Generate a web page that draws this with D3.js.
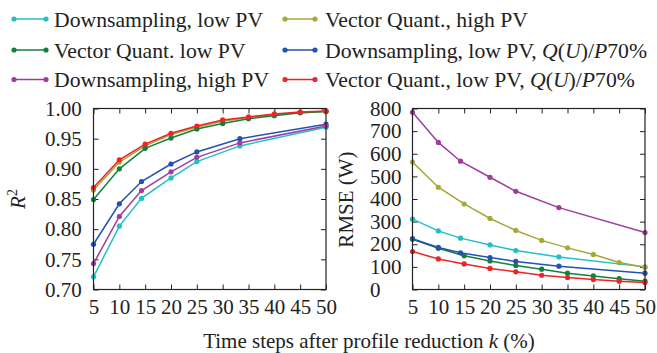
<!DOCTYPE html>
<html>
<head>
<meta charset="utf-8">
<script src="https://cdn.jsdelivr.net/npm/d3@7"></script>
<style>
  body { margin: 0; background: #fff; }
  text { font-family: "Liberation Serif", "Times New Roman", serif; fill: #222; }
</style>
</head>
<body>
<svg id="chart" width="657" height="353"></svg>
<script>
// x positions: downsampling uses 1/n steps, vector quant. every 5 %
const kDown = [5, 10, 14.29, 20, 25, 33.33, 50];
const kVQ = [5, 10, 15, 20, 25, 30, 35, 40, 45, 50];
const xTicks = [5, 10, 15, 20, 25, 30, 35, 40, 45, 50];
const r2Ticks = [0.70, 0.75, 0.80, 0.85, 0.90, 0.95, 1.00];
const rmseTicks = [0, 100, 200, 300, 400, 500, 600, 700, 800];

// R^2 values
const r2DownLow = [0.721, 0.805, 0.851, 0.885, 0.912, 0.938, 0.969];
const r2VQHigh = [0.865, 0.911, 0.938, 0.957, 0.969, 0.979, 0.985, 0.990, 0.993, 0.995];
const r2VQLow = [0.849, 0.900, 0.934, 0.951, 0.966, 0.975, 0.983, 0.988, 0.993, 0.995];
const r2DownLowQ = [0.775, 0.842, 0.879, 0.908, 0.928, 0.950, 0.974];
const r2DownHigh = [0.743, 0.821, 0.864, 0.895, 0.919, 0.943, 0.971];
const r2VQLowQ = [0.869, 0.915, 0.941, 0.959, 0.971, 0.981, 0.986, 0.991, 0.994, 0.996];

// RMSE values (W)
const rmseDownLow = [311, 259, 227, 197, 172, 144, 100];
const rmseVQHigh = [563, 452, 378, 314, 261, 217, 184, 155, 119, 98];
const rmseVQLow = [222, 182, 149, 126, 106, 90, 72, 60, 48, 37];
const rmseDownLowQ = [225, 186, 162, 141, 124, 103, 72];
const rmseDownHigh = [783, 650, 567, 496, 434, 362, 252];
const rmseVQLowQ = [168, 135, 113, 93, 78, 63, 53, 44, 37, 31];

const series = [
  { name: "Downsampling, low PV", color: "#22c0c4", k: kDown, r2: r2DownLow, rmse: rmseDownLow },
  { name: "Vector Quant., high PV", color: "#a6a73c", k: kVQ, r2: r2VQHigh, rmse: rmseVQHigh },
  { name: "Vector Quant. low PV", color: "#14803e", k: kVQ, r2: r2VQLow, rmse: rmseVQLow },
  { name: "Downsampling, low PV, ", q: true, color: "#2352b0", k: kDown, r2: r2DownLowQ, rmse: rmseDownLowQ },
  { name: "Downsampling, high PV", color: "#a03ca0", k: kDown, r2: r2DownHigh, rmse: rmseDownHigh },
  { name: "Vector Quant., low PV, ", q: true, color: "#ee2228", k: kVQ, r2: r2VQLowQ, rmse: rmseVQLowQ }
];

const svg = d3.select("#chart");
const plotTop = 108.5, plotBottom = 289.5;

// appends the italic Q(U)/P70% math part
let addMath = (t) => {
  t.append("tspan").attr("font-style", "italic").text("Q");
  t.append("tspan").text("(");
  t.append("tspan").attr("font-style", "italic").text("U");
  t.append("tspan").text(")/");
  t.append("tspan").attr("font-style", "italic").text("P");
  t.append("tspan").text("70%");
};

let drawPanel = (x0, x1, yDomain, yTicks, yFmt, labelX, key) => {
  const x = d3.scaleLinear().domain([5, 50]).range([x0, x1]);
  const y = d3.scaleLinear().domain(yDomain).range([plotBottom, plotTop]);
  const g = svg.append("g");

  g.append("g").attr("transform", `translate(0,${plotBottom})`)
    .call(d3.axisBottom(x).tickValues(xTicks).tickSizeInner(-5).tickSizeOuter(0).tickPadding(10));
  g.append("g").attr("transform", `translate(0,${plotTop})`)
    .call(d3.axisTop(x).tickValues(xTicks).tickSizeInner(-5).tickSizeOuter(0).tickFormat(""));
  const ly = g.append("g").attr("transform", `translate(${x0},0)`)
    .call(d3.axisLeft(y).tickValues(yTicks).tickFormat(yFmt).tickSizeInner(-5).tickSizeOuter(0));
  g.append("g").attr("transform", `translate(${x1},0)`)
    .call(d3.axisRight(y).tickValues(yTicks).tickSizeInner(-5).tickSizeOuter(0).tickFormat(""));

  ly.selectAll("text").attr("x", labelX - x0).attr("text-anchor", "start");
  g.selectAll(".domain").remove();
  g.selectAll(".tick line").attr("stroke", "#222").attr("stroke-width", 1);
  g.selectAll(".tick text").attr("font-size", 21).attr("fill", "#222");

  const line = d3.line().x(d => x(d[0])).y(d => y(d[1]));
  series.forEach(s => {
    const pts = s.k.map((k, i) => [k, s[key][i]]);
    g.append("path").datum(pts).attr("d", line)
      .attr("fill", "none").attr("stroke", s.color).attr("stroke-width", 1.5);
    g.selectAll(null).data(pts).enter().append("circle")
      .attr("cx", d => x(d[0])).attr("cy", d => y(d[1])).attr("r", 2.6)
      .attr("fill", s.color);
  });

  g.append("rect").attr("x", x0).attr("y", plotTop).attr("width", x1 - x0).attr("height", plotBottom - plotTop)
    .attr("fill", "none").attr("stroke", "#222").attr("stroke-width", 1.2);
};

drawPanel(93.5, 326, [0.70, 1.00], r2Ticks, d3.format(".2f"), 45, "r2");
drawPanel(412.5, 645, [0, 800], rmseTicks, d3.format("d"), 370, "rmse");

// axis titles
const r2t = svg.append("text").attr("transform", "translate(25,199) rotate(-90)")
  .attr("text-anchor", "middle").attr("font-size", 21);
r2t.append("tspan").attr("font-style", "italic").text("R");
r2t.append("tspan").attr("font-size", 14).attr("dy", -8).text("2");

svg.append("text").attr("transform", "translate(353,199.5) rotate(-90)")
  .attr("text-anchor", "middle").attr("font-size", 21).text("RMSE (W)");

const xt = svg.append("text").attr("x", 369).attr("y", 348)
  .attr("text-anchor", "middle").attr("font-size", 21);
xt.append("tspan").text("Time steps after profile reduction ");
xt.append("tspan").attr("font-style", "italic").text("k");
xt.append("tspan").text(" (%)");

// legend, two columns
const legRows = [19, 50, 79.5];
const legCols = [{ x0: 14, x1: 46, tx: 54 }, { x0: 285, x1: 315, tx: 325 }];
series.forEach((s, i) => {
  const c = legCols[i % 2], yy = legRows[Math.floor(i / 2)];
  const lg = svg.append("g");
  lg.append("line").attr("x1", c.x0).attr("x2", c.x1).attr("y1", yy).attr("y2", yy)
    .attr("stroke", s.color).attr("stroke-width", 1.5);
  lg.selectAll(null).data([c.x0, c.x1]).enter().append("circle")
    .attr("cx", d => d).attr("cy", yy).attr("r", 2.6).attr("fill", s.color);
  const t = lg.append("text").attr("x", c.tx).attr("y", yy + 7.5).attr("font-size", 21.7);
  t.append("tspan").text(s.name);
  if (s.q) addMath(t);
});
</script>
</body>
</html>
